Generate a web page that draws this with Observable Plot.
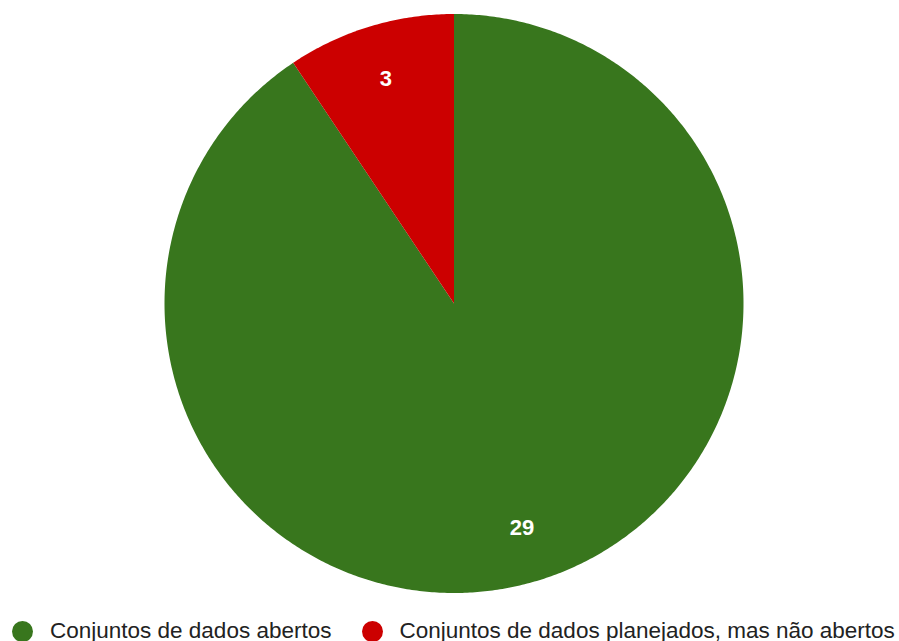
<!DOCTYPE html>
<html>
<head>
<meta charset="utf-8">
<script src="https://cdn.jsdelivr.net/npm/d3@7"></script>
<script src="https://cdn.jsdelivr.net/npm/@observablehq/plot@0.6"></script>
<style>
  html, body { margin: 0; padding: 0; background: #fff; }
  #wrap { position: relative; width: 899px; height: 641px; overflow: hidden; font-family: Arial, "Liberation Sans", sans-serif; }
  #chart svg { display: block; }
  #legend { position: absolute; left: 0; top: 616px; width: 899px; height: 30px; }
  .item { position: absolute; top: 0; height: 30px; display: flex; align-items: center; font-size: 22.5px; color: #222; white-space: nowrap; }
  .sw { width: 21px; height: 21px; border-radius: 50%; display: inline-block; margin-right: 17px; flex: none; }
</style>
</head>
<body>
<div id="wrap">
  <div id="chart"></div>
  <div id="legend"></div>
</div>
<script>
const categories = ["Conjuntos de dados abertos", "Conjuntos de dados planejados, mas não abertos"];
const values = [29, 3];
const colors = ["#38761d", "#cc0000"];

const data = categories.map((c, i) => ({category: c, value: values[i], color: colors[i]}));
const arcs = d3.pie().sort(null).value(d => d.value).startAngle(0).endAngle(2 * Math.PI)(data);

// polygon outline for each slice (geometry only)
const poly = [];
arcs.forEach(a => {
  poly.push({category: a.data.category, x: 0, y: 0});
  const n = Math.max(2, Math.ceil((a.endAngle - a.startAngle) / (Math.PI / 360)));
  for (let k = 0; k <= n; k++) {
    const t = a.startAngle + (a.endAngle - a.startAngle) * k / n;
    poly.push({category: a.data.category, x: Math.sin(t), y: Math.cos(t)});
  }
});
const labels = arcs.map(a => {
  const m = (a.startAngle + a.endAngle) / 2;
  return {category: a.data.category, label: String(a.data.value), x: 0.81 * Math.sin(m), y: 0.81 * Math.cos(m)};
});

const plot = Plot.plot({
  width: 899,
  height: 616,
  x: {domain: [-1, 1], range: [164, 743], axis: null},
  y: {domain: [-1, 1], range: [592.5, 13.5], axis: null},
  color: {domain: categories, range: colors},
  style: {background: "#fff"},
  marks: [
    Plot.line(poly, {x: "x", y: "y", z: "category", fill: "category", stroke: "none", curve: "linear-closed"}),
    Plot.text(labels, {x: "x", y: "y", text: "label", fill: "#fff", fontSize: 22, fontWeight: "bold", fontFamily: "Arial, 'Liberation Sans', sans-serif", textAnchor: "middle", lineAnchor: "middle"})
  ]
});
document.getElementById("chart").appendChild(plot);

const lefts = [12, 361.5];
const legend = document.getElementById("legend");
categories.forEach((c, i) => {
  const it = document.createElement("div");
  it.className = "item";
  it.style.left = lefts[i] + "px";
  const sw = document.createElement("span");
  sw.className = "sw";
  sw.style.background = colors[i];
  it.appendChild(sw);
  const tx = document.createElement("span");
  tx.textContent = c;
  it.appendChild(tx);
  legend.appendChild(it);
});
</script>
</body>
</html>
